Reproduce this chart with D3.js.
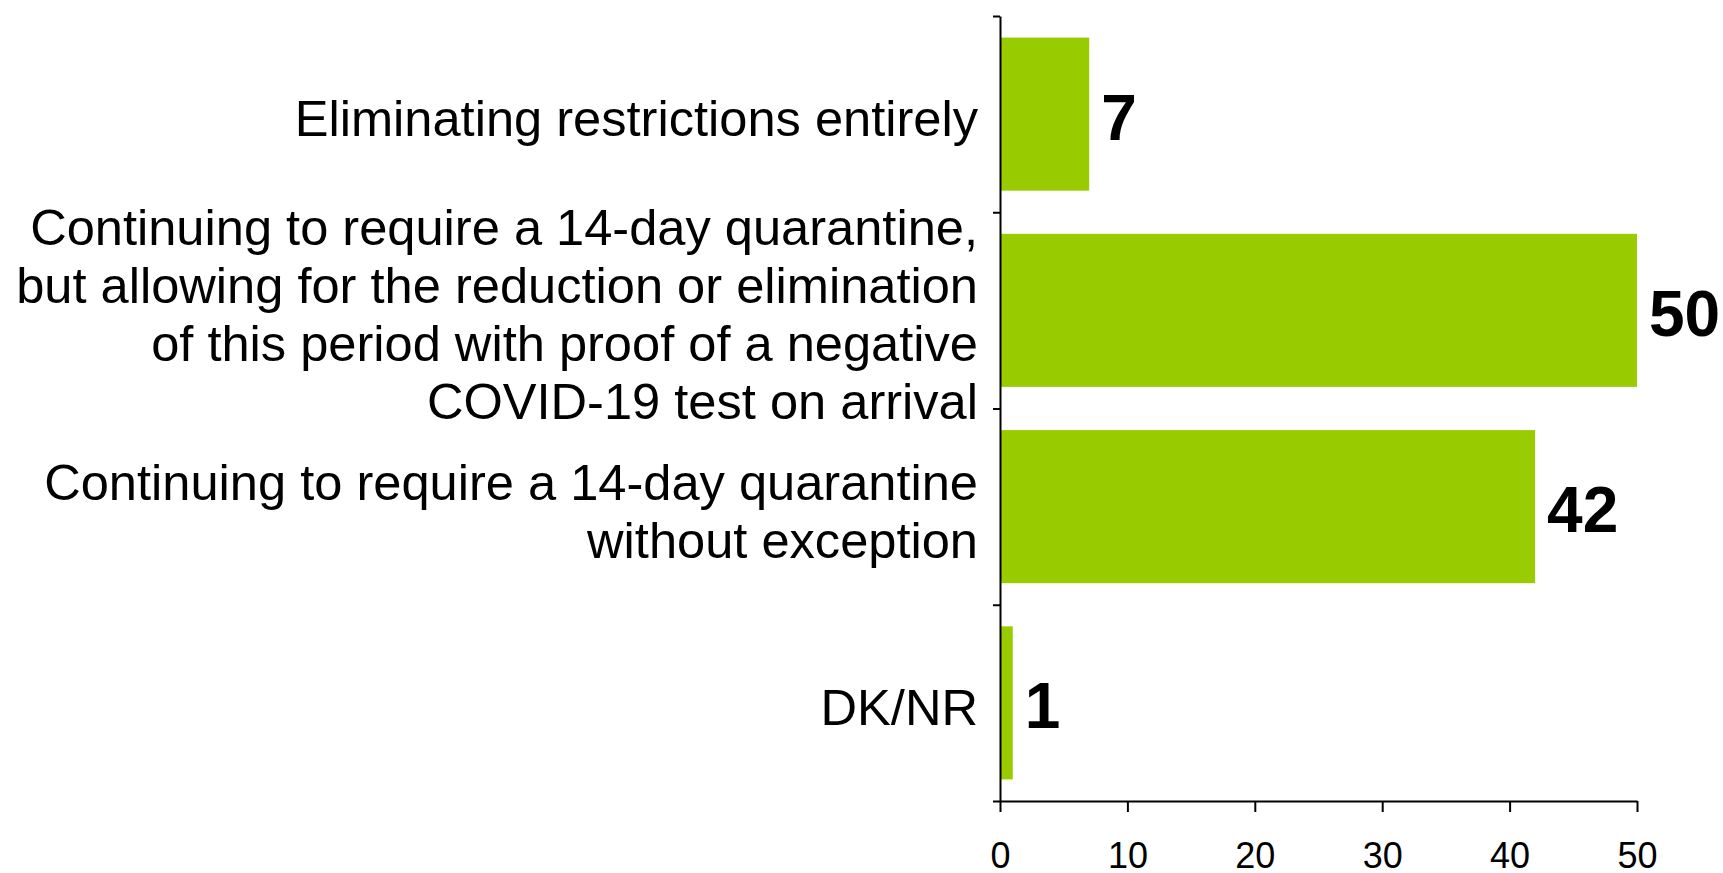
<!DOCTYPE html>
<html>
<head>
<meta charset="utf-8">
<script src="https://cdn.jsdelivr.net/npm/d3@7"></script>
<style>
  html, body { margin: 0; padding: 0; background: #ffffff; }
  svg { display: block; }
  text { font-family: "Liberation Sans", Arial, sans-serif; fill: #000; }
</style>
</head>
<body>
<svg id="chart" width="1723" height="873"></svg>
<script>
// ---- data ----
const categories = [
  "Eliminating restrictions entirely",
  "Continuing to require a 14-day quarantine,\nbut allowing for the reduction or elimination\nof this period with proof of a negative\nCOVID-19 test on arrival",
  "Continuing to require a 14-day quarantine\nwithout exception",
  "DK/NR"
];
const values = [7, 50, 42, 1];
const xTicks = [0, 10, 20, 30, 40, 50];

// ---- layout ----
const svg = d3.select("#chart");
const x0 = 1000, x1 = 1637;
const yTop = 16, yBot = 801;
const barColor = "#99CC00";

const x = d3.scaleLinear().domain([0, 50]).range([x0, x1]);
const y = d3.scaleBand().domain(categories).range([yTop, yBot]).paddingInner(0.22).paddingOuter(0.11);
const yEdges = d3.scaleLinear().domain([0, categories.length]).range([yTop, yBot]);

// bars
svg.append("g").selectAll("rect")
  .data(values)
  .join("rect")
  .attr("x", x(0))
  .attr("y", (d, i) => y(categories[i]))
  .attr("width", d => x(d) - x(0))
  .attr("height", y.bandwidth())
  .attr("fill", barColor);

// value labels
svg.append("g").selectAll("text")
  .data(values)
  .join("text")
  .attr("x", d => x(d) + 12)
  .attr("y", (d, i) => y(categories[i]) + y.bandwidth() / 2)
  .attr("dy", "0.4em")
  .style("font-size", "64px")
  .style("font-weight", "bold")
  .text(d => d);

// category labels (multi-line, right aligned)
const lineH = 58;
const lab = svg.append("g");
categories.forEach((c, i) => {
  const lines = c.split("\n");
  const cy = y(c) + y.bandwidth() / 2;
  const first = cy + 22 - (lines.length - 1) * lineH / 2;
  const t = lab.append("text")
    .attr("text-anchor", "end")
    .style("font-size", "50.6px");
  lines.forEach((ln, j) => {
    t.append("tspan").attr("x", 978).attr("y", first + j * lineH).text(ln);
  });
});

// y axis (ticks at band edges)
const yAxis = svg.append("g")
  .attr("transform", `translate(${x0},0)`)
  .call(d3.axisLeft(yEdges).ticks(categories.length).tickFormat("").tickSize(7).tickSizeOuter(0));
yAxis.selectAll("path, line").attr("stroke", "#000").attr("stroke-width", 2);

// x axis
const xAxis = svg.append("g")
  .attr("transform", `translate(0,${yBot})`)
  .call(d3.axisBottom(x).tickValues(xTicks).tickSize(11).tickSizeOuter(0).tickPadding(30));
xAxis.selectAll("path, line").attr("stroke", "#000").attr("stroke-width", 2);
xAxis.selectAll("text")
  .style("font-size", "36px")
  .style("font-family", "'Liberation Sans', Arial, sans-serif")
  .attr("fill", "#000");
</script>
</body>
</html>
